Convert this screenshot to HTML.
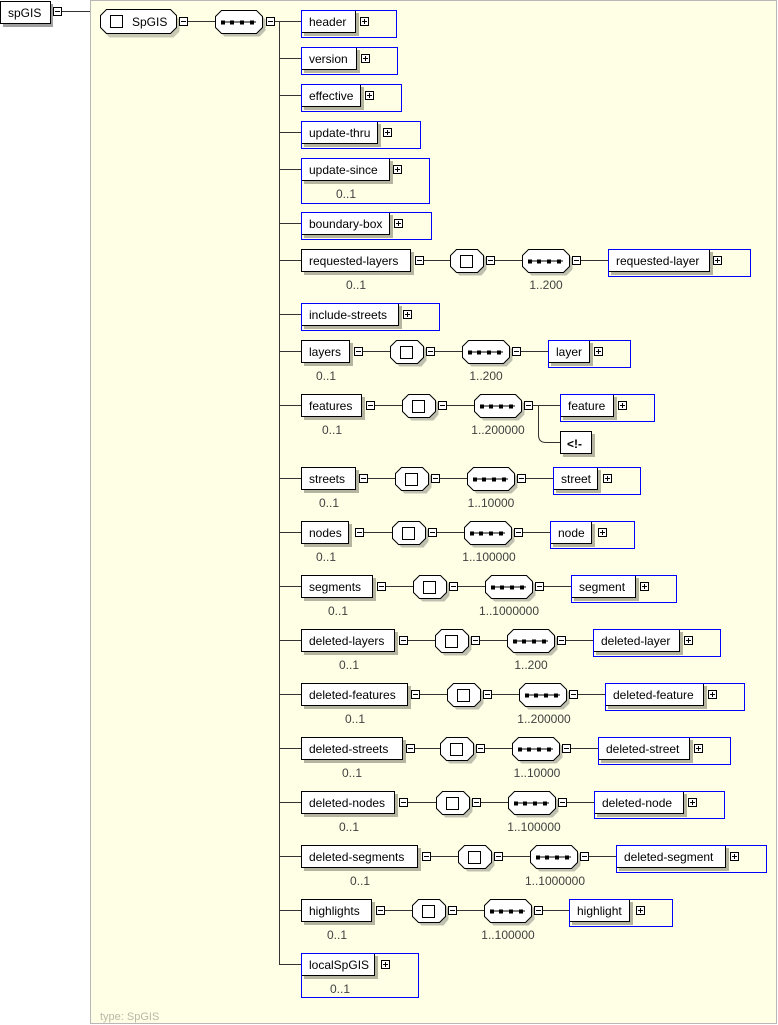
<!DOCTYPE html>
<html><head><meta charset="utf-8"><style>
html,body{margin:0;padding:0;background:#fff;}
svg{display:block;}
text{font-family:"Liberation Sans",sans-serif;font-size:12px;fill:#000;}
.lab{fill:#404040;text-anchor:middle;}
</style></head><body>
<svg width="778" height="1025" viewBox="0 0 778 1025" xmlns="http://www.w3.org/2000/svg">
<defs>
<g id="mi"><rect x="0.5" y="0.5" width="8" height="8" fill="#fff" stroke="#000"/><line x1="2" y1="4.5" x2="7" y2="4.5" stroke="#000"/></g>
<g id="pl"><rect x="0.5" y="0.5" width="8" height="8" fill="#fff" stroke="#000"/><line x1="2" y1="4.5" x2="7" y2="4.5" stroke="#000"/><line x1="4.5" y1="2" x2="4.5" y2="7" stroke="#000"/></g>
<g id="ch"><polygon points="9.5,3.5 31.5,3.5 36.5,9.5 36.5,20.5 31.5,26.5 9.5,26.5 3.5,20.5 3.5,9.5" fill="#c0c0b0" stroke="none"/><polygon points="6.5,0.5 27.5,0.5 33.5,6.5 33.5,17.5 27.5,23.5 6.5,23.5 0.5,17.5 0.5,6.5" fill="#fff" stroke="#000"/><rect x="10.5" y="6.5" width="12" height="12" fill="#fff" stroke="#000"/></g>
<g id="sq"><polygon points="9.5,3.5 44.5,3.5 50.5,9.5 50.5,20.5 44.5,26.5 9.5,26.5 3.5,20.5 3.5,9.5" fill="#c0c0b0"/><polygon points="6.5,0.5 41.5,0.5 47.5,6.5 47.5,17.5 41.5,23.5 6.5,23.5 0.5,17.5 0.5,6.5" fill="#fff" stroke="#000"/><line x1="6" y1="12" x2="41" y2="12" stroke="#000"/><rect x="6" y="10.5" width="4" height="4" fill="#000"/><rect x="15" y="10.5" width="4" height="4" fill="#000"/><rect x="25" y="10.5" width="4" height="4" fill="#000"/><rect x="35" y="10.5" width="4" height="4" fill="#000"/></g>
</defs>
<rect x="90.5" y="0.5" width="686" height="1023" fill="#ffffe6" stroke="#b8b8b8"/>
<text x="100" y="1020" style="fill:#b8b8a8;font-size:11px">type: SpGIS</text>

<!-- root -->
<rect x="3" y="4" width="50" height="23" fill="#a0a0a0"/>
<rect x="0.5" y="1.5" width="50" height="22" fill="#fff" stroke="#000"/>
<text x="8" y="17">spGIS</text>
<use href="#mi" x="53" y="7"/>
<line x1="62" y1="11.5" x2="90" y2="11.5" stroke="#333"/>

<!-- complex type -->
<polygon points="109.5,13.5 173.5,13.5 179.5,19.5 179.5,31.5 173.5,37.5 109.5,37.5 103.5,31.5 103.5,19.5" fill="#c8c8b4"/>
<polygon points="106.5,9.5 170.5,9.5 176.5,15.5 176.5,27.5 170.5,33.5 106.5,33.5 100.5,27.5 100.5,15.5" fill="#fff" stroke="#000"/>
<rect x="110.5" y="15.5" width="12" height="12" fill="#fff" stroke="#000"/>
<text x="132" y="26">SpGIS</text>
<use href="#mi" x="179" y="17"/>
<line x1="188" y1="21.5" x2="215" y2="21.5" stroke="#333"/>
<use href="#sq" x="215" y="10"/>
<use href="#mi" x="266" y="17"/>
<line x1="275" y1="21.5" x2="280" y2="21.5" stroke="#333"/>
<line x1="279.5" y1="21" x2="279.5" y2="964" stroke="#333"/>

<g stroke="#333">
<line x1="279" y1="21.5" x2="301" y2="21.5"/><line x1="279" y1="58.5" x2="301" y2="58.5"/><line x1="279" y1="95.5" x2="301" y2="95.5"/><line x1="279" y1="132.5" x2="301" y2="132.5"/><line x1="279" y1="169.5" x2="301" y2="169.5"/><line x1="279" y1="223.5" x2="301" y2="223.5"/><line x1="279" y1="260.5" x2="301" y2="260.5"/><line x1="279" y1="314.5" x2="301" y2="314.5"/><line x1="279" y1="351.5" x2="301" y2="351.5"/><line x1="279" y1="405.5" x2="301" y2="405.5"/><line x1="279" y1="478.5" x2="301" y2="478.5"/><line x1="279" y1="532.5" x2="301" y2="532.5"/><line x1="279" y1="586.5" x2="301" y2="586.5"/><line x1="279" y1="640.5" x2="301" y2="640.5"/><line x1="279" y1="694.5" x2="301" y2="694.5"/><line x1="279" y1="748.5" x2="301" y2="748.5"/><line x1="279" y1="802.5" x2="301" y2="802.5"/><line x1="279" y1="856.5" x2="301" y2="856.5"/><line x1="279" y1="910.5" x2="301" y2="910.5"/><line x1="279" y1="964.5" x2="301" y2="964.5"/>
</g>

<!-- simple elements -->
<g>
<rect x="304" y="13" width="55" height="23" fill="#b4b4a0"/><rect x="301.5" y="10.5" width="54" height="22" fill="#fff" stroke="#000"/><text x="309" y="26">header</text><use href="#pl" x="360" y="17"/><rect x="301.5" y="10.5" width="95" height="27" fill="none" stroke="#0000ff"/>

<rect x="304" y="50" width="56" height="23" fill="#b4b4a0"/><rect x="301.5" y="47.5" width="55" height="22" fill="#fff" stroke="#000"/><text x="309" y="63">version</text><use href="#pl" x="361" y="54"/><rect x="301.5" y="47.5" width="96" height="27" fill="none" stroke="#0000ff"/>

<rect x="304" y="87" width="60" height="23" fill="#b4b4a0"/><rect x="301.5" y="84.5" width="59" height="22" fill="#fff" stroke="#000"/><text x="309" y="100">effective</text><use href="#pl" x="365" y="91"/><rect x="301.5" y="84.5" width="100" height="27" fill="none" stroke="#0000ff"/>

<rect x="304" y="124" width="77" height="23" fill="#b4b4a0"/><rect x="301.5" y="121.5" width="76" height="22" fill="#fff" stroke="#000"/><text x="309" y="137">update-thru</text><use href="#pl" x="383" y="128"/><rect x="301.5" y="121.5" width="119" height="27" fill="none" stroke="#0000ff"/>

<rect x="304" y="161" width="89" height="23" fill="#b4b4a0"/><rect x="301.5" y="158.5" width="88" height="22" fill="#fff" stroke="#000"/><text x="309" y="174">update-since</text><use href="#pl" x="393" y="165"/><text class="lab" x="346" y="198">0..1</text><rect x="301.5" y="158.5" width="128" height="45" fill="none" stroke="#0000ff"/>

<rect x="304" y="215" width="89" height="23" fill="#b4b4a0"/><rect x="301.5" y="212.5" width="88" height="22" fill="#fff" stroke="#000"/><text x="309" y="228">boundary-box</text><use href="#pl" x="394" y="219"/><rect x="301.5" y="212.5" width="130" height="27" fill="none" stroke="#0000ff"/>

<rect x="304" y="306" width="98" height="23" fill="#b4b4a0"/><rect x="301.5" y="303.5" width="97" height="22" fill="#fff" stroke="#000"/><text x="309" y="319">include-streets</text><use href="#pl" x="403" y="310"/><rect x="301.5" y="303.5" width="138" height="27" fill="none" stroke="#0000ff"/>

<rect x="304" y="956" width="74" height="23" fill="#b4b4a0"/><rect x="301.5" y="953.5" width="73" height="22" fill="#fff" stroke="#000"/><text x="309" y="969">localSpGIS</text><use href="#pl" x="381" y="960"/><text class="lab" x="340" y="993">0..1</text><rect x="301.5" y="953.5" width="117" height="44" fill="none" stroke="#0000ff"/>
</g>

<!-- complex rows -->
<!-- requested-layers cy260 -->
<g transform="translate(0,249)">
<rect x="304" y="3" width="110" height="23" fill="#b4b4a0"/><rect x="301.5" y="0.5" width="109" height="22" fill="#fff" stroke="#000"/><text x="309" y="16">requested-layers</text>
<use href="#mi" x="415" y="7"/><line x1="424" y1="11.5" x2="450" y2="11.5" stroke="#333"/>
<use href="#ch" x="450" y="0"/><use href="#mi" x="486" y="7"/><line x1="495" y1="11.5" x2="522" y2="11.5" stroke="#333"/>
<use href="#sq" x="522" y="0"/><use href="#mi" x="572" y="7"/><line x1="581" y1="11.5" x2="608" y2="11.5" stroke="#333"/>
<rect x="611" y="3" width="102" height="23" fill="#b4b4a0"/><rect x="608.5" y="0.5" width="101" height="22" fill="#fff" stroke="#000"/><text x="616" y="16">requested-layer</text><use href="#pl" x="713" y="7"/><rect x="608.5" y="0.5" width="142" height="27" fill="none" stroke="#0000ff"/>
<text class="lab" x="356" y="40">0..1</text><text class="lab" x="546" y="40">1..200</text>
</g>

<!-- layers cy351 -->
<g transform="translate(0,340)">
<rect x="304" y="3" width="49" height="23" fill="#b4b4a0"/><rect x="301.5" y="0.5" width="48" height="22" fill="#fff" stroke="#000"/><text x="309" y="16">layers</text>
<use href="#mi" x="354" y="7"/><line x1="363" y1="11.5" x2="390" y2="11.5" stroke="#333"/>
<use href="#ch" x="390" y="0"/><use href="#mi" x="426" y="7"/><line x1="435" y1="11.5" x2="462" y2="11.5" stroke="#333"/>
<use href="#sq" x="462" y="0"/><use href="#mi" x="512" y="7"/><line x1="521" y1="11.5" x2="548" y2="11.5" stroke="#333"/>
<rect x="551" y="3" width="42" height="23" fill="#b4b4a0"/><rect x="548.5" y="0.5" width="41" height="22" fill="#fff" stroke="#000"/><text x="556" y="16">layer</text><use href="#pl" x="594" y="7"/><rect x="548.5" y="0.5" width="82" height="27" fill="none" stroke="#0000ff"/>
<text class="lab" x="326" y="40">0..1</text><text class="lab" x="486" y="40">1..200</text>
</g>

<!-- features cy405 -->
<g transform="translate(0,394)">
<rect x="304" y="3" width="61" height="23" fill="#b4b4a0"/><rect x="301.5" y="0.5" width="60" height="22" fill="#fff" stroke="#000"/><text x="309" y="16">features</text>
<use href="#mi" x="366" y="7"/><line x1="375" y1="11.5" x2="402" y2="11.5" stroke="#333"/>
<use href="#ch" x="402" y="0"/><use href="#mi" x="438" y="7"/><line x1="447" y1="11.5" x2="474" y2="11.5" stroke="#333"/>
<use href="#sq" x="474" y="0"/><use href="#mi" x="524" y="7"/><line x1="533" y1="11.5" x2="560" y2="11.5" stroke="#333"/>
<path d="M538.5 11.5 V41 Q538.5 48.5 546 48.5 H560" fill="none" stroke="#333"/>
<rect x="563" y="3" width="54" height="23" fill="#b4b4a0"/><rect x="560.5" y="0.5" width="53" height="22" fill="#fff" stroke="#000"/><text x="568" y="16">feature</text><use href="#pl" x="618" y="7"/><rect x="560.5" y="0.5" width="94" height="27" fill="none" stroke="#0000ff"/>
<rect x="563" y="40" width="32" height="23" fill="#b4b4a0"/><rect x="560.5" y="37.5" width="31" height="22" fill="#fff" stroke="#000"/><text x="567" y="54" style="font-weight:bold">&lt;!-</text>
<text class="lab" x="332" y="40">0..1</text><text class="lab" x="498" y="40">1..200000</text>
</g>

<!-- streets cy478 -->
<g transform="translate(0,467)">
<rect x="304" y="3" width="55" height="23" fill="#b4b4a0"/><rect x="301.5" y="0.5" width="54" height="22" fill="#fff" stroke="#000"/><text x="309" y="16">streets</text>
<use href="#mi" x="359" y="7"/><line x1="368" y1="11.5" x2="395" y2="11.5" stroke="#333"/>
<use href="#ch" x="395" y="0"/><use href="#mi" x="431" y="7"/><line x1="440" y1="11.5" x2="467" y2="11.5" stroke="#333"/>
<use href="#sq" x="467" y="0"/><use href="#mi" x="517" y="7"/><line x1="526" y1="11.5" x2="553" y2="11.5" stroke="#333"/>
<rect x="556" y="3" width="45" height="23" fill="#b4b4a0"/><rect x="553.5" y="0.5" width="44" height="22" fill="#fff" stroke="#000"/><text x="561" y="16">street</text><use href="#pl" x="603" y="7"/><rect x="553.5" y="0.5" width="87" height="27" fill="none" stroke="#0000ff"/>
<text class="lab" x="329" y="40">0..1</text><text class="lab" x="491" y="40">1..10000</text>
</g>

<!-- nodes cy532 -->
<g transform="translate(0,521)">
<rect x="304" y="3" width="48" height="23" fill="#b4b4a0"/><rect x="301.5" y="0.5" width="47" height="22" fill="#fff" stroke="#000"/><text x="309" y="16">nodes</text>
<use href="#mi" x="355" y="7"/><line x1="364" y1="11.5" x2="392" y2="11.5" stroke="#333"/>
<use href="#ch" x="392" y="0"/><use href="#mi" x="428" y="7"/><line x1="437" y1="11.5" x2="464" y2="11.5" stroke="#333"/>
<use href="#sq" x="464" y="0"/><use href="#mi" x="514" y="7"/><line x1="523" y1="11.5" x2="550" y2="11.5" stroke="#333"/>
<rect x="553" y="3" width="42" height="23" fill="#b4b4a0"/><rect x="550.5" y="0.5" width="41" height="22" fill="#fff" stroke="#000"/><text x="558" y="16">node</text><use href="#pl" x="598" y="7"/><rect x="550.5" y="0.5" width="84" height="27" fill="none" stroke="#0000ff"/>
<text class="lab" x="326" y="40">0..1</text><text class="lab" x="489" y="40">1..100000</text>
</g>

<!-- segments cy586 -->
<g transform="translate(0,575)">
<rect x="304" y="3" width="72" height="23" fill="#b4b4a0"/><rect x="301.5" y="0.5" width="71" height="22" fill="#fff" stroke="#000"/><text x="309" y="16">segments</text>
<use href="#mi" x="377" y="7"/><line x1="386" y1="11.5" x2="413" y2="11.5" stroke="#333"/>
<use href="#ch" x="413" y="0"/><use href="#mi" x="449" y="7"/><line x1="458" y1="11.5" x2="485" y2="11.5" stroke="#333"/>
<use href="#sq" x="485" y="0"/><use href="#mi" x="535" y="7"/><line x1="544" y1="11.5" x2="571" y2="11.5" stroke="#333"/>
<rect x="574" y="3" width="65" height="23" fill="#b4b4a0"/><rect x="571.5" y="0.5" width="64" height="22" fill="#fff" stroke="#000"/><text x="579" y="16">segment</text><use href="#pl" x="640" y="7"/><rect x="571.5" y="0.5" width="105" height="27" fill="none" stroke="#0000ff"/>
<text class="lab" x="338" y="40">0..1</text><text class="lab" x="509" y="40">1..1000000</text>
</g>

<!-- deleted-layers cy640 -->
<g transform="translate(0,629)">
<rect x="304" y="3" width="94" height="23" fill="#b4b4a0"/><rect x="301.5" y="0.5" width="93" height="22" fill="#fff" stroke="#000"/><text x="309" y="16">deleted-layers</text>
<use href="#mi" x="399" y="7"/><line x1="408" y1="11.5" x2="435" y2="11.5" stroke="#333"/>
<use href="#ch" x="435" y="0"/><use href="#mi" x="471" y="7"/><line x1="480" y1="11.5" x2="507" y2="11.5" stroke="#333"/>
<use href="#sq" x="507" y="0"/><use href="#mi" x="557" y="7"/><line x1="566" y1="11.5" x2="593" y2="11.5" stroke="#333"/>
<rect x="596" y="3" width="87" height="23" fill="#b4b4a0"/><rect x="593.5" y="0.5" width="86" height="22" fill="#fff" stroke="#000"/><text x="601" y="16">deleted-layer</text><use href="#pl" x="684" y="7"/><rect x="593.5" y="0.5" width="127" height="27" fill="none" stroke="#0000ff"/>
<text class="lab" x="349" y="40">0..1</text><text class="lab" x="531" y="40">1..200</text>
</g>

<!-- deleted-features cy694 -->
<g transform="translate(0,683)">
<rect x="304" y="3" width="107" height="23" fill="#b4b4a0"/><rect x="301.5" y="0.5" width="106" height="22" fill="#fff" stroke="#000"/><text x="309" y="16">deleted-features</text>
<use href="#mi" x="411" y="7"/><line x1="420" y1="11.5" x2="447" y2="11.5" stroke="#333"/>
<use href="#ch" x="447" y="0"/><use href="#mi" x="483" y="7"/><line x1="492" y1="11.5" x2="519" y2="11.5" stroke="#333"/>
<use href="#sq" x="519" y="0"/><use href="#mi" x="569" y="7"/><line x1="578" y1="11.5" x2="605" y2="11.5" stroke="#333"/>
<rect x="608" y="3" width="99" height="23" fill="#b4b4a0"/><rect x="605.5" y="0.5" width="98" height="22" fill="#fff" stroke="#000"/><text x="613" y="16">deleted-feature</text><use href="#pl" x="708" y="7"/><rect x="605.5" y="0.5" width="139" height="27" fill="none" stroke="#0000ff"/>
<text class="lab" x="355" y="40">0..1</text><text class="lab" x="544" y="40">1..200000</text>
</g>

<!-- deleted-streets cy748 -->
<g transform="translate(0,737)">
<rect x="304" y="3" width="102" height="23" fill="#b4b4a0"/><rect x="301.5" y="0.5" width="101" height="22" fill="#fff" stroke="#000"/><text x="309" y="16">deleted-streets</text>
<use href="#mi" x="406" y="7"/><line x1="415" y1="11.5" x2="440" y2="11.5" stroke="#333"/>
<use href="#ch" x="440" y="0"/><use href="#mi" x="476" y="7"/><line x1="485" y1="11.5" x2="512" y2="11.5" stroke="#333"/>
<use href="#sq" x="512" y="0"/><use href="#mi" x="562" y="7"/><line x1="571" y1="11.5" x2="598" y2="11.5" stroke="#333"/>
<rect x="601" y="3" width="92" height="23" fill="#b4b4a0"/><rect x="598.5" y="0.5" width="91" height="22" fill="#fff" stroke="#000"/><text x="606" y="16">deleted-street</text><use href="#pl" x="694" y="7"/><rect x="598.5" y="0.5" width="132" height="27" fill="none" stroke="#0000ff"/>
<text class="lab" x="352" y="40">0..1</text><text class="lab" x="537" y="40">1..10000</text>
</g>

<!-- deleted-nodes cy802 -->
<g transform="translate(0,791)">
<rect x="304" y="3" width="94" height="23" fill="#b4b4a0"/><rect x="301.5" y="0.5" width="93" height="22" fill="#fff" stroke="#000"/><text x="309" y="16">deleted-nodes</text>
<use href="#mi" x="399" y="7"/><line x1="408" y1="11.5" x2="436" y2="11.5" stroke="#333"/>
<use href="#ch" x="436" y="0"/><use href="#mi" x="472" y="7"/><line x1="481" y1="11.5" x2="508" y2="11.5" stroke="#333"/>
<use href="#sq" x="508" y="0"/><use href="#mi" x="558" y="7"/><line x1="567" y1="11.5" x2="594" y2="11.5" stroke="#333"/>
<rect x="597" y="3" width="90" height="23" fill="#b4b4a0"/><rect x="594.5" y="0.5" width="89" height="22" fill="#fff" stroke="#000"/><text x="602" y="16">deleted-node</text><use href="#pl" x="688" y="7"/><rect x="594.5" y="0.5" width="130" height="27" fill="none" stroke="#0000ff"/>
<text class="lab" x="349" y="40">0..1</text><text class="lab" x="534" y="40">1..100000</text>
</g>

<!-- deleted-segments cy856 -->
<g transform="translate(0,845)">
<rect x="304" y="3" width="117" height="23" fill="#b4b4a0"/><rect x="301.5" y="0.5" width="116" height="22" fill="#fff" stroke="#000"/><text x="309" y="16">deleted-segments</text>
<use href="#mi" x="422" y="7"/><line x1="431" y1="11.5" x2="458" y2="11.5" stroke="#333"/>
<use href="#ch" x="458" y="0"/><use href="#mi" x="494" y="7"/><line x1="503" y1="11.5" x2="530" y2="11.5" stroke="#333"/>
<use href="#sq" x="530" y="0"/><use href="#mi" x="580" y="7"/><line x1="589" y1="11.5" x2="616" y2="11.5" stroke="#333"/>
<rect x="619" y="3" width="110" height="23" fill="#b4b4a0"/><rect x="616.5" y="0.5" width="109" height="22" fill="#fff" stroke="#000"/><text x="624" y="16">deleted-segment</text><use href="#pl" x="730" y="7"/><rect x="616.5" y="0.5" width="150" height="27" fill="none" stroke="#0000ff"/>
<text class="lab" x="360" y="40">0..1</text><text class="lab" x="555" y="40">1..1000000</text>
</g>

<!-- highlights cy910 -->
<g transform="translate(0,899)">
<rect x="304" y="3" width="71" height="23" fill="#b4b4a0"/><rect x="301.5" y="0.5" width="70" height="22" fill="#fff" stroke="#000"/><text x="309" y="16">highlights</text>
<use href="#mi" x="376" y="7"/><line x1="385" y1="11.5" x2="412" y2="11.5" stroke="#333"/>
<use href="#ch" x="412" y="0"/><use href="#mi" x="448" y="7"/><line x1="457" y1="11.5" x2="484" y2="11.5" stroke="#333"/>
<use href="#sq" x="484" y="0"/><use href="#mi" x="534" y="7"/><line x1="543" y1="11.5" x2="569" y2="11.5" stroke="#333"/>
<rect x="572" y="3" width="61" height="23" fill="#b4b4a0"/><rect x="569.5" y="0.5" width="60" height="22" fill="#fff" stroke="#000"/><text x="577" y="16">highlight</text><use href="#pl" x="636" y="7"/><rect x="569.5" y="0.5" width="103" height="27" fill="none" stroke="#0000ff"/>
<text class="lab" x="337" y="40">0..1</text><text class="lab" x="508" y="40">1..100000</text>
</g>
</svg>
</body></html>
